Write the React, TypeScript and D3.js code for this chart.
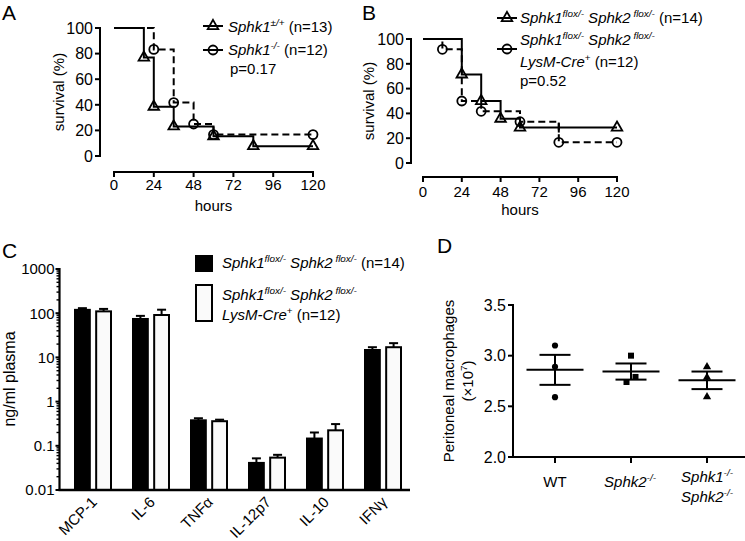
import React from "react";
import * as d3 from "d3";

const FONT = "'Liberation Sans', Arial, Helvetica, sans-serif";

// ---------- Panel A data ----------
const aHourTicks = [0, 24, 48, 72, 96, 120];
const aSurvTicks = [0, 20, 40, 60, 80, 100];
const aWtTimes = [0, 18, 24, 36, 60, 84, 120];
const aWtSurv = [100, 76.9, 38.5, 23.1, 15.4, 7.7, 7.7];
const aKoTimes = [0, 24, 36, 48, 60, 120];
const aKoSurv = [100, 83.3, 41.7, 25, 16.7, 16.7];

// ---------- Panel B data ----------
const bHourTicks = [0, 24, 48, 72, 96, 120];
const bSurvTicks = [0, 20, 40, 60, 80, 100];
const bCtrlTimes = [0, 24, 36, 48, 60, 120];
const bCtrlSurv = [100, 71.4, 50, 35.7, 28.6, 28.6];
const bCtrlCensor = [84];
const bCreTimes = [0, 12, 24, 36, 60, 84, 120];
const bCreSurv = [100, 91.7, 50, 41.7, 33.3, 16.7, 16.7];

// ---------- Panel C data ----------
const cCytokines = ["MCP-1", "IL-6", "TNFα", "IL-12p7", "IL-10", "IFNγ"];
const cCtrlMean = [119, 74, 0.377, 0.041, 0.146, 14.7];
const cCtrlUpper = [130, 87, 0.42, 0.052, 0.2, 17];
const cCreMean = [110, 91, 0.36, 0.054, 0.224, 17];
const cCreUpper = [125, 120, 0.39, 0.0625, 0.31, 21];
const cTicks = [1000, 100, 10, 1, 0.1, 0.01];
const cTickLabels = ["1000", "100", "10", "1", "0.1", "0.01"];

// ---------- Panel D data ----------
const dGroups = ["WT", "Sphk2", "Sphk1Sphk2"];
const dWt = [3.1, 2.89, 2.59];
const dSphk2 = [3.0, 2.79, 2.74];
const dSphk12 = [2.89, 2.786, 2.594];
const dTicks = [2.0, 2.5, 3.0, 3.5];
const dTickLabels = ["2.0", "2.5", "3.0", "3.5"];

type Part = { t: string; i?: boolean; sup?: boolean };

function Rich({ x, y, parts, size, anchor = "start", transform }: any) {
  let cur = 0;
  return (
    <text x={x} y={y} fontSize={size} textAnchor={anchor} transform={transform} fontFamily={FONT} fill="#000">
      {parts.map((p: Part, k: number) => {
        const target = p.sup ? -size * 0.42 : 0;
        const dy = target - cur;
        cur = target;
        return (
          <tspan key={k} dy={dy} fontStyle={p.i ? "italic" : "normal"} fontSize={p.sup ? size * 0.66 : size}>
            {p.t}
          </tspan>
        );
      })}
    </text>
  );
}

const triPath = d3.symbol().type(d3.symbolTriangle).size(48)() as string;
const smallTri = d3.symbol().type(d3.symbolTriangle).size(30)() as string;
const smallSq = d3.symbol().type(d3.symbolSquare).size(36)() as string;
const smallCirc = d3.symbol().type(d3.symbolCircle).size(30)() as string;

function Marker({ kind, x, y }: { kind: string; x: number; y: number }) {
  if (kind === "tri")
    return <path d={triPath} transform={`translate(${x},${y})`} fill="none" stroke="#000" strokeWidth={1.8} />;
  return <circle cx={x} cy={y} r={4.5} fill="none" stroke="#000" strokeWidth={1.8} />;
}

type Series = { times: number[]; surv: number[]; kind: string; dashed: boolean; censor?: number[] };

function SurvivalPanel({ xr, yr, yAxisX, xAxisY, series, xTicks, yTicks, xTickBase, hoursBase, ylabX }: any) {
  const x = d3.scaleLinear().domain([0, 120]).range(xr);
  const y = d3.scaleLinear().domain([0, 100]).range(yr);
  const line = d3
    .line<[number, number]>()
    .x((d) => x(d[0]))
    .y((d) => y(d[1]))
    .curve(d3.curveStepAfter);
  return (
    <g>
      {/* y axis */}
      <line x1={yAxisX} x2={yAxisX} y1={y(0) + 1} y2={y(100) - 1} stroke="#000" strokeWidth={2} />
      {yTicks.map((t: number) => (
        <g key={t}>
          <line x1={yAxisX - 5} x2={yAxisX} y1={y(t)} y2={y(t)} stroke="#000" strokeWidth={2} />
          <text x={yAxisX - 7} y={y(t)} dy="0.36em" textAnchor="end" fontSize={16}>
            {t}
          </text>
        </g>
      ))}
      {/* x axis */}
      <line x1={x(0) - 1} x2={x(120) + 1} y1={xAxisY} y2={xAxisY} stroke="#000" strokeWidth={2} />
      {xTicks.map((t: number) => (
        <g key={t}>
          <line x1={x(t)} x2={x(t)} y1={xAxisY} y2={xAxisY + 5} stroke="#000" strokeWidth={2} />
          <text x={x(t)} y={xTickBase} textAnchor="middle" fontSize={15}>
            {t}
          </text>
        </g>
      ))}
      <text x={(xr[0] + xr[1]) / 2} y={hoursBase} textAnchor="middle" fontSize={15}>
        hours
      </text>
      <text
        transform={`translate(${ylabX},${(yr[0] + yr[1]) / 2}) rotate(-90)`}
        textAnchor="middle"
        fontSize={15}
      >
        survival (%)
      </text>
      {series.map((s: Series, k: number) => {
        const pts = s.times.map((t, i) => [t, s.surv[i]] as [number, number]);
        return (
          <g key={k}>
            <path
              d={line(pts) as string}
              fill="none"
              stroke="#000"
              strokeWidth={2}
              strokeDasharray={s.dashed ? "7,4" : undefined}
            />
            {pts.slice(1).map((p, i) => (
              <Marker key={i} kind={s.kind} x={x(p[0])} y={y(p[1])} />
            ))}
            {(s.censor || []).map((c, i) => {
              const idx = d3.bisectRight(s.times, c) - 1;
              const yy = y(s.surv[idx]);
              return <line key={"c" + i} x1={x(c)} x2={x(c)} y1={yy - 5} y2={yy + 5} stroke="#000" strokeWidth={2} />;
            })}
          </g>
        );
      })}
    </g>
  );
}

function LegendSym({ kind, x, y }: any) {
  return (
    <g>
      <line x1={x} x2={x + 20} y1={y} y2={y} stroke="#000" strokeWidth={2} />
      <Marker kind={kind} x={x + 10} y={y} />
    </g>
  );
}

function PanelA() {
  const series: Series[] = [
    { times: aKoTimes, surv: aKoSurv, kind: "circ", dashed: true },
    { times: aWtTimes, surv: aWtSurv, kind: "tri", dashed: false },
  ];
  return (
    <g>
      <text x={2} y={20} fontSize={21}>A</text>
      <SurvivalPanel
        xr={[114, 313]}
        yr={[156, 28]}
        yAxisX={100}
        xAxisY={172}
        series={series}
        xTicks={aHourTicks}
        yTicks={aSurvTicks}
        xTickBase={190}
        hoursBase={211}
        ylabX={64}
      />
      <LegendSym kind="tri" x={203} y={26} />
      <Rich x={228} y={32} size={15} parts={[{ t: "Sphk1", i: true }, { t: "±/+", i: true, sup: true }, { t: " (n=13)" }]} />
      <LegendSym kind="circ" x={203} y={50} />
      <Rich x={228} y={55} size={15} parts={[{ t: "Sphk1", i: true }, { t: "-/-", i: true, sup: true }, { t: " (n=12)" }]} />
      <text x={230} y={74} fontSize={15}>p=0.17</text>
    </g>
  );
}

function PanelB() {
  const series: Series[] = [
    { times: bCreTimes, surv: bCreSurv, kind: "circ", dashed: true },
    { times: bCtrlTimes, surv: bCtrlSurv, kind: "tri", dashed: false, censor: bCtrlCensor },
  ];
  return (
    <g>
      <text x={362} y={20} fontSize={21}>B</text>
      <SurvivalPanel
        xr={[423, 617]}
        yr={[163, 39]}
        yAxisX={411}
        xAxisY={177}
        series={series}
        xTicks={bHourTicks}
        yTicks={bSurvTicks}
        xTickBase={197}
        hoursBase={215}
        ylabX={374}
      />
      <LegendSym kind="tri" x={497} y={18} />
      <Rich
        x={520}
        y={23}
        size={15}
        parts={[
          { t: "Sphk1", i: true },
          { t: "flox/-", i: true, sup: true },
          { t: " Sphk2", i: true },
          { t: " flox/-", i: true, sup: true },
          { t: " (n=14)" },
        ]}
      />
      <LegendSym kind="circ" x={497} y={49} />
      <Rich
        x={520}
        y={45}
        size={15}
        parts={[
          { t: "Sphk1", i: true },
          { t: "flox/-", i: true, sup: true },
          { t: " Sphk2", i: true },
          { t: " flox/-", i: true, sup: true },
        ]}
      />
      <Rich x={520} y={67} size={15} parts={[{ t: "LysM-Cre", i: true }, { t: "+", sup: true }, { t: " (n=12)" }]} />
      <text x={520} y={86} fontSize={15}>p=0.52</text>
    </g>
  );
}

function PanelC() {
  const y = d3.scaleLog().domain([0.01, 1000]).range([490, 269]);
  const xb = d3.scaleBand<string>().domain(cCytokines).range([64, 412]);
  const inner = d3.scaleBand<string>().domain(["ctrl", "cre"]).range([-18, 18]).paddingInner(0.3);
  const axisX = 59.5;
  const minor: number[] = [];
  [0.01, 0.1, 1, 10, 100].forEach((d) => {
    for (let m = 2; m <= 9; m++) minor.push(d * m);
  });
  const groups = [
    { key: "ctrl", mean: cCtrlMean, upper: cCtrlUpper, fill: "#000" },
    { key: "cre", mean: cCreMean, upper: cCreUpper, fill: "#fafafa" },
  ];
  return (
    <g>
      <text x={2} y={258} fontSize={21}>C</text>
      {groups.map((g) =>
        cCytokines.map((c, i) => {
          const cx = (xb(c) as number) + xb.bandwidth() / 2;
          const bx = cx + (inner(g.key) as number);
          const bw = inner.bandwidth();
          const ym = y(g.mean[i]);
          const yu = y(g.upper[i]);
          const mid = bx + bw / 2;
          return (
            <g key={g.key + c}>
              <line x1={mid} x2={mid} y1={ym} y2={yu} stroke="#000" strokeWidth={2} />
              <line x1={mid - 4.5} x2={mid + 4.5} y1={yu} y2={yu} stroke="#000" strokeWidth={2} />
              <rect x={bx} y={ym} width={bw} height={490 - ym} fill={g.fill} stroke="#000" strokeWidth={2} />
            </g>
          );
        })
      )}
      {/* axes */}
      <line x1={axisX} x2={axisX} y1={268} y2={491} stroke="#000" strokeWidth={2.2} />
      <line x1={axisX - 1} x2={410} y1={490} y2={490} stroke="#000" strokeWidth={2.5} />
      {minor.map((t, i) => (
        <line key={"m" + i} x1={axisX - 3} x2={axisX} y1={y(t)} y2={y(t)} stroke="#000" strokeWidth={1.4} />
      ))}
      {cTicks.map((t, i) => (
        <g key={t}>
          <line x1={axisX - 4} x2={axisX} y1={y(t)} y2={y(t)} stroke="#000" strokeWidth={2} />
          <text x={axisX - 5} y={y(t)} dy="0.36em" textAnchor="end" fontSize={15}>
            {cTickLabels[i]}
          </text>
        </g>
      ))}
      {cCytokines.map((c) => {
        const cx = (xb(c) as number) + xb.bandwidth() / 2;
        return (
          <text
            key={c}
            transform={`translate(${cx + 5},${503}) rotate(-45)`}
            textAnchor="end"
            fontSize={15}
          >
            {c}
          </text>
        );
      })}
      <text transform={`translate(15,379) rotate(-90)`} textAnchor="middle" fontSize={16}>
        ng/ml plasma
      </text>
      {/* legend */}
      <rect x={195} y={255} width={18} height={17} fill="#000" />
      <Rich
        x={222}
        y={268}
        size={15}
        parts={[
          { t: "Sphk1", i: true },
          { t: "flox/-", i: true, sup: true },
          { t: " Sphk2", i: true },
          { t: " flox/-", i: true, sup: true },
          { t: " (n=14)" },
        ]}
      />
      <rect x={196} y={285} width={16} height={36} fill="#fafafa" stroke="#000" strokeWidth={2} />
      <Rich
        x={222}
        y={300}
        size={15}
        parts={[
          { t: "Sphk1", i: true },
          { t: "flox/-", i: true, sup: true },
          { t: " Sphk2", i: true },
          { t: " flox/-", i: true, sup: true },
        ]}
      />
      <Rich x={222} y={320} size={15} parts={[{ t: "LysM-Cre", i: true }, { t: "+", sup: true }, { t: " (n=12)" }]} />
    </g>
  );
}

function PanelD() {
  const y = d3.scaleLinear().domain([2, 3.5]).range([457, 305]);
  const x = d3.scalePoint<string>().domain(dGroups).range([555, 707]);
  const axisX = 513;
  const data = [
    { g: "WT", v: dWt, sym: smallCirc },
    { g: "Sphk2", v: dSphk2, sym: smallSq },
    { g: "Sphk1Sphk2", v: dSphk12, sym: smallTri },
  ];
  return (
    <g>
      <text x={437} y={253} fontSize={21}>D</text>
      <line x1={axisX} x2={axisX} y1={304} y2={458} stroke="#000" strokeWidth={2} />
      <line x1={axisX - 1} x2={745} y1={457} y2={457} stroke="#000" strokeWidth={2.2} />
      {dTicks.map((t, i) => (
        <g key={t}>
          <line x1={axisX - 5} x2={axisX} y1={y(t)} y2={y(t)} stroke="#000" strokeWidth={2} />
          <text x={axisX - 7} y={y(t)} dy="0.36em" textAnchor="end" fontSize={16}>
            {dTickLabels[i]}
          </text>
        </g>
      ))}
      {dGroups.map((g) => (
        <line key={g} x1={x(g)} x2={x(g)} y1={457} y2={463} stroke="#000" strokeWidth={2} />
      ))}
      {data.map((d) => {
        const cx = x(d.g) as number;
        const mean = d3.mean(d.v) as number;
        const sem = (d3.deviation(d.v) as number) / Math.sqrt(d.v.length);
        // simple horizontal dodge for overlapping points
        const sorted = d.v.map((v, i) => ({ v, i })).sort((a, b) => a.v - b.v);
        const offs = new Array(d.v.length).fill(0);
        for (let k = 1; k < sorted.length; k++) {
          if (Math.abs(y(sorted[k].v) - y(sorted[k - 1].v)) < 7) {
            offs[sorted[k - 1].i] = -4.5;
            offs[sorted[k].i] = 4.5;
          }
        }
        return (
          <g key={d.g}>
            {d.v.map((v, i) => (
              <path key={i} d={d.sym} transform={`translate(${cx + offs[i]},${y(v)})`} fill="#000" />
            ))}
            <line x1={cx - 28.5} x2={cx + 28.5} y1={y(mean)} y2={y(mean)} stroke="#000" strokeWidth={2} />
            <line x1={cx} x2={cx} y1={y(mean + sem)} y2={y(mean - sem)} stroke="#000" strokeWidth={2} />
            <line x1={cx - 15.5} x2={cx + 15.5} y1={y(mean + sem)} y2={y(mean + sem)} stroke="#000" strokeWidth={2} />
            <line x1={cx - 15.5} x2={cx + 15.5} y1={y(mean - sem)} y2={y(mean - sem)} stroke="#000" strokeWidth={2} />
          </g>
        );
      })}
      <text x={x("WT")} y={487} textAnchor="middle" fontSize={15}>WT</text>
      <Rich x={(x("Sphk2") as number) - 1} y={487} size={15} anchor="middle" parts={[{ t: "Sphk2", i: true }, { t: "-/-", i: true, sup: true }]} />
      <Rich x={x("Sphk1Sphk2")} y={482} size={15} anchor="middle" parts={[{ t: "Sphk1", i: true }, { t: "-/-", i: true, sup: true }]} />
      <Rich x={x("Sphk1Sphk2")} y={502} size={15} anchor="middle" parts={[{ t: "Sphk2", i: true }, { t: "-/-", i: true, sup: true }]} />
      <text transform={`translate(454,381) rotate(-90)`} textAnchor="middle" fontSize={15}>
        Peritoneal macrophages
      </text>
      <Rich
        transform={`translate(473,381) rotate(-90)`}
        x={0}
        y={0}
        size={15}
        anchor="middle"
        parts={[{ t: "(×10" }, { t: "7", sup: true }, { t: ")" }]}
      />
    </g>
  );
}

export default function App() {
  return (
    <svg
      width={745}
      height={541}
      viewBox="0 0 745 541"
      style={{ position: "absolute", left: 0, top: 0, background: "#fff" }}
      fontFamily={FONT}
    >
      <rect width={745} height={541} fill="#fff" />
      <PanelA />
      <PanelB />
      <PanelC />
      <PanelD />
    </svg>
  );
}
